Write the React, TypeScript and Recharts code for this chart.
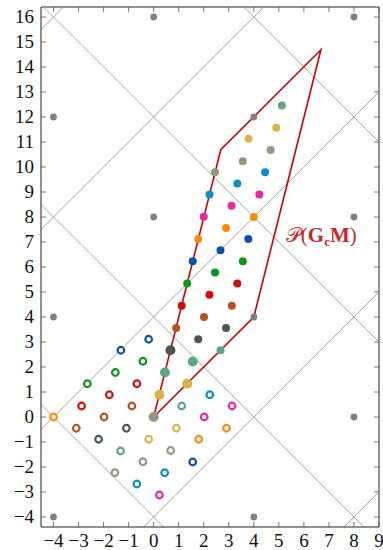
import React from 'react';
import { ScatterChart, Scatter, XAxis, YAxis, ReferenceLine, ReferenceDot } from 'recharts';

// axis ticks
const xTicks = [-4, -3, -2, -1, 0, 1, 2, 3, 4, 5, 6, 7, 8, 9];
const yTicks = [-4, -3, -2, -1, 0, 1, 2, 3, 4, 5, 6, 7, 8, 9, 10, 11, 12, 13, 14, 15, 16];
const xDomain = [-4.5, 9];
const yDomain = [-4.4, 16.4];

// gray cell borders: y = x + c and y = -x + c
const risingCuts = [-12, -4, 4, 12, 20];
const fallingCuts = [-4, 4, 12, 20];

// coarse lattice points (gray)
const latticeDots = [
  { x: -4, y: -4 }, { x: 4, y: -4 }, { x: 8, y: 0 }, { x: -4, y: 4 }, { x: 4, y: 4 },
  { x: 0, y: 8 }, { x: 8, y: 8 }, { x: -4, y: 12 }, { x: 4, y: 12 }, { x: 0, y: 16 }, { x: 8, y: 16 },
];

// parallelogram P(GcM)
const polygon = [
  { x: 0, y: 0 }, { x: 4, y: 4 }, { x: 6.68, y: 14.69 }, { x: 2.68, y: 10.69 }, { x: 0, y: 0 },
];

// fine lattice points, per colour: filled (inside P), big (inside both), rings (reduced cell)
const oliveDots = [{ x: 2.45, y: 9.79 }, { x: 3.56, y: 10.23 }, { x: 4.67, y: 10.68 }];
const oliveBig = [{ x: 0, y: 0 }];
const oliveRings = [{ x: 0.68, y: -1.34 }, { x: -0.43, y: -1.79 }, { x: -1.55, y: -2.23 }];

const yellowDots = [{ x: 3.79, y: 11.13 }, { x: 4.9, y: 11.57 }];
const yellowBig = [{ x: 0.23, y: 0.89 }, { x: 1.34, y: 1.33 }];
const yellowRings = [{ x: 0.91, y: -0.45 }, { x: -0.2, y: -0.89 }];

const tealDots = [{ x: 2.67, y: 2.67 }, { x: 5.12, y: 12.46 }];
const tealBig = [{ x: 0.45, y: 1.78 }, { x: 1.56, y: 2.22 }];
const tealRings = [{ x: 1.12, y: 0.44 }, { x: -1.32, y: -1.36 }];

const slateDots = [{ x: 1.78, y: 3.11 }, { x: 2.89, y: 3.56 }];
const slateBig = [{ x: 0.67, y: 2.67 }];
const slateRings = [{ x: -1.09, y: -0.45 }, { x: -2.2, y: -0.89 }];

const brownDots = [{ x: 0.9, y: 3.56 }, { x: 2.01, y: 4.0 }, { x: 3.12, y: 4.45 }];
const brownRings = [{ x: -0.87, y: 0.44 }, { x: -1.98, y: 0 }, { x: -3.09, y: -0.45 }];

const redDots = [{ x: 1.12, y: 4.45 }, { x: 2.23, y: 4.89 }, { x: 3.34, y: 5.34 }];
const redRings = [{ x: -0.67, y: 1.33 }, { x: -1.77, y: 0.89 }, { x: -2.88, y: 0.44 }];

const greenDots = [{ x: 1.34, y: 5.34 }, { x: 2.45, y: 5.78 }, { x: 3.56, y: 6.23 }];
const greenRings = [{ x: -0.43, y: 2.23 }, { x: -1.53, y: 1.78 }, { x: -2.65, y: 1.33 }];

const navyDots = [{ x: 1.56, y: 6.23 }, { x: 2.67, y: 6.67 }, { x: 3.78, y: 7.12 }];
const navyRings = [{ x: -0.2, y: 3.11 }, { x: -1.31, y: 2.67 }, { x: 1.56, y: -1.8 }];

const orangeDots = [{ x: 1.78, y: 7.12 }, { x: 2.89, y: 7.56 }, { x: 4.0, y: 8.0 }];
const orangeRings = [{ x: -4, y: 0 }, { x: 2.91, y: -0.45 }, { x: 1.8, y: -0.89 }];

const magentaDots = [{ x: 2.0, y: 8.01 }, { x: 3.11, y: 8.45 }, { x: 4.22, y: 8.9 }];
const magentaRings = [{ x: 3.13, y: 0.44 }, { x: 2.02, y: 0 }, { x: 0.23, y: -3.12 }];

const cyanDots = [{ x: 2.23, y: 8.9 }, { x: 3.34, y: 9.34 }, { x: 4.45, y: 9.79 }];
const cyanRings = [{ x: 2.24, y: 0.89 }, { x: 0.44, y: -2.23 }, { x: -0.67, y: -2.68 }];

const groups = [
  { color: '#8e9a7b', dots: oliveDots, big: oliveBig, rings: oliveRings },
  { color: '#d5b44b', dots: yellowDots, big: yellowBig, rings: yellowRings },
  { color: '#5fa584', dots: tealDots, big: tealBig, rings: tealRings },
  { color: '#4a5450', dots: slateDots, big: slateBig, rings: slateRings },
  { color: '#b5531f', dots: brownDots, big: [], rings: brownRings },
  { color: '#cc1010', dots: redDots, big: [], rings: redRings },
  { color: '#0f961a', dots: greenDots, big: [], rings: greenRings },
  { color: '#0c50aa', dots: navyDots, big: [], rings: navyRings },
  { color: '#ff8812', dots: orangeDots, big: [], rings: orangeRings },
  { color: '#e8289e', dots: magentaDots, big: [], rings: magentaRings },
  { color: '#0b8dc6', dots: cyanDots, big: [], rings: cyanRings },
];

const FONT = '"Liberation Serif", "DejaVu Serif", serif';

// clip y = s*x + c to the plot box
function clip(s: number, c: number) {
  let lo, hi;
  if (s > 0) {
    lo = Math.max(xDomain[0], yDomain[0] - c);
    hi = Math.min(xDomain[1], yDomain[1] - c);
  } else {
    lo = Math.max(xDomain[0], c - yDomain[1]);
    hi = Math.min(xDomain[1], c - yDomain[0]);
  }
  return [{ x: lo, y: s * lo + c }, { x: hi, y: s * hi + c }];
}

const fmt = (v: number) => (v < 0 ? '\u2212' + Math.abs(v) : String(v));

const XTick = (p: any) => (
  <text x={p.x} y={p.y + 20} textAnchor="middle" fontFamily={FONT} fontSize={19} fill="#111">
    {fmt(p.payload.value)}
  </text>
);
const YTick = (p: any) => (
  <text x={p.x - 7} y={p.y + 6} textAnchor="end" fontFamily={FONT} fontSize={19} fill="#111">
    {fmt(p.payload.value)}
  </text>
);

const filled = (color: string, r: number) => (p: any) => (
  <circle cx={p.cx} cy={p.cy} r={r} fill={color} />
);
const ring = (color: string) => (p: any) => (
  <circle cx={p.cx} cy={p.cy} r={3.3} fill="#fff" stroke={color} strokeWidth={2.2} />
);

const PolyLabel = (p: any) => (
  <text x={p.cx} y={p.cy} fontFamily={FONT} fontSize={21} fill="#c4262a">
    <tspan>𝒫</tspan>(<tspan fontWeight="bold">G</tspan>
    <tspan fontSize={13} fontWeight="bold" dy={4}>c</tspan>
    <tspan fontWeight="bold" dy={-4}>M</tspan>)
  </text>
);

const tickStroke = '#555';

export default function App() {
  return (
    <div style={{ position: 'absolute', left: 0, top: 0, width: 383, height: 550, background: '#fff' }}>
      <ScatterChart width={383} height={550} margin={{ top: 7, right: 4, left: 0, bottom: 0 }}>
        <XAxis
          type="number"
          dataKey="x"
          domain={xDomain}
          ticks={xTicks}
          allowDataOverflow
          height={23}
          tickSize={0}
          tickMargin={0}
          tickLine={false}
          axisLine={{ stroke: '#222' }}
          tick={<XTick />}
          interval={0}
        />
        <YAxis
          type="number"
          dataKey="y"
          domain={yDomain}
          ticks={yTicks}
          allowDataOverflow
          width={41}
          tickSize={0}
          tickMargin={0}
          tickLine={false}
          axisLine={{ stroke: '#222' }}
          tick={<YTick />}
          interval={0}
        />
        <ReferenceLine x={xDomain[1]} stroke="#222" />
        <ReferenceLine y={yDomain[1]} stroke="#222" />

        {/* inward tick marks on all four sides */}
        {xTicks.map((t) => (
          <ReferenceLine key={'xb' + t} segment={[{ x: t, y: yDomain[0] }, { x: t, y: yDomain[0] + 0.2 }]} stroke={tickStroke} strokeWidth={0.8} ifOverflow="visible" />
        ))}
        {xTicks.map((t) => (
          <ReferenceLine key={'xt' + t} segment={[{ x: t, y: yDomain[1] }, { x: t, y: yDomain[1] - 0.2 }]} stroke={tickStroke} strokeWidth={0.8} ifOverflow="visible" />
        ))}
        {yTicks.map((t) => (
          <ReferenceLine key={'yl' + t} segment={[{ x: xDomain[0], y: t }, { x: xDomain[0] + 0.2, y: t }]} stroke={tickStroke} strokeWidth={0.8} ifOverflow="visible" />
        ))}
        {yTicks.map((t) => (
          <ReferenceLine key={'yr' + t} segment={[{ x: xDomain[1], y: t }, { x: xDomain[1] - 0.2, y: t }]} stroke={tickStroke} strokeWidth={0.8} ifOverflow="visible" />
        ))}

        {/* cell borders */}
        {risingCuts.map((c) => (
          <ReferenceLine key={'r' + c} segment={clip(1, c)} stroke="#999" strokeWidth={0.9} ifOverflow="visible" />
        ))}
        {fallingCuts.map((c) => (
          <ReferenceLine key={'f' + c} segment={clip(-1, c)} stroke="#999" strokeWidth={0.9} ifOverflow="visible" />
        ))}

        <Scatter
          data={polygon}
          line={{ stroke: '#cc0000', strokeWidth: 1.6 }}
          shape={() => <g />}
          isAnimationActive={false}
        />

        {groups.map((g, i) => (
          <Scatter key={'ring' + i} data={g.rings} shape={ring(g.color)} isAnimationActive={false} />
        ))}
        {groups.map((g, i) => (
          <Scatter key={'dot' + i} data={g.dots} shape={filled(g.color, 4)} isAnimationActive={false} />
        ))}
        {groups.map((g, i) => (
          <Scatter key={'big' + i} data={g.big} shape={filled(g.color, 5)} isAnimationActive={false} />
        ))}
        <Scatter data={latticeDots} shape={filled('#808080', 3.4)} isAnimationActive={false} />

        <ReferenceDot x={5.28} y={7.0} r={0} ifOverflow="visible" shape={<PolyLabel />} />
      </ScatterChart>
    </div>
  );
}
